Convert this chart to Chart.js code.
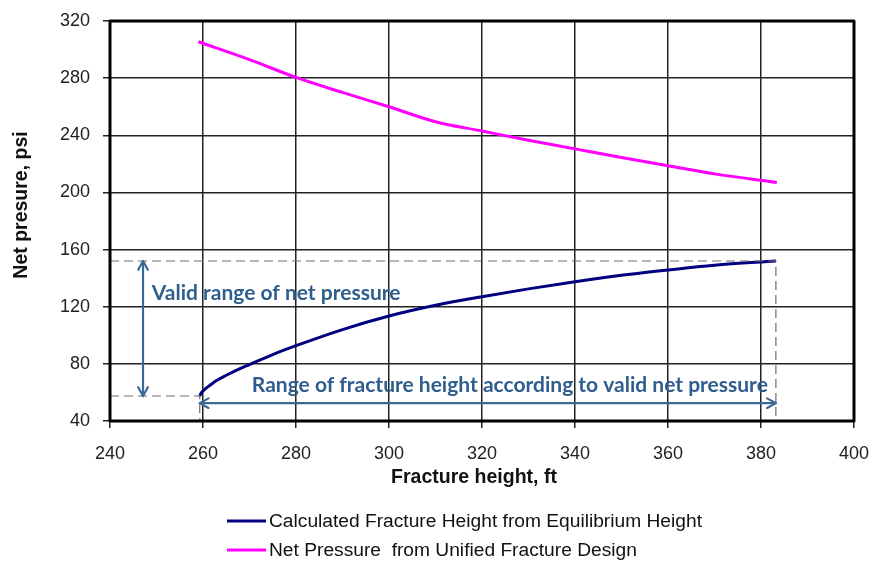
<!DOCTYPE html>
<html>
<head>
<meta charset="utf-8">
<script src="https://cdn.jsdelivr.net/npm/chart.js@4.4.1/dist/chart.umd.min.js"></script>
<style>
  html, body { margin: 0; padding: 0; background: #fff; }
  #wrap { width: 873px; height: 563px; }
</style>
</head>
<body>
<div id="wrap"><canvas id="c" width="873" height="563"></canvas></div>
<script>
// Fracture height (ft) vs. net pressure (psi) from the equilibrium-height model
const heightEq = [259.3, 259.6, 260.3, 261.5, 263, 265, 267.5, 270, 275, 280, 290, 300, 310, 320, 330, 340, 350, 360, 370, 383.2];
const pressureEq = [57.5, 59.5, 62, 65, 68.5, 72, 76, 79.5, 86.5, 92.7, 104, 113.5, 121, 127, 132.5, 137.5, 142, 145.7, 149, 152];

// Net pressure (psi) from the unified fracture design
const heightUfd = [259, 270, 280, 290, 300, 310, 320, 330, 340, 350, 360, 370, 383.4];
const pressureUfd = [305.5, 293, 280.5, 270, 260, 249.5, 243, 236.5, 230.5, 224.5, 218.7, 213, 207];

// Valid window: net pressure limits and matching fracture heights
const pressureLimits = [57.5, 152];
const heightLimits = [259.3, 383.2];

// Axis ticks
const xTicks = [240, 260, 280, 300, 320, 340, 360, 380, 400];
const yTicks = [40, 80, 120, 160, 200, 240, 280, 320];

const seriesLabels = ['Calculated Fracture Height from Equilibrium Height', 'Net Pressure  from Unified Fracture Design'];
const noteLabels = ['Valid range of net pressure', 'Range of fracture height according to valid net pressure'];
const axisTitles = ['Fracture height, ft', 'Net presure, psi'];

const xMin = xTicks[0], xMax = xTicks[xTicks.length - 1];
const yMin = yTicks[0], yMax = yTicks[yTicks.length - 1];

const toPts = (xs, ys) => xs.map((x, i) => ({ x: x, y: ys[i] }));

const ARIAL = '"Liberation Sans", Arial, sans-serif';

const guideStyle = {
  borderColor: '#6e6e6e', borderWidth: 1.2, borderDash: [9, 5],
  pointRadius: 0, fill: false, tension: 0, isGuide: true
};

const datasets = [
  // dashed guides: high limit
  Object.assign({ data: [{ x: xMin, y: pressureLimits[1] }, { x: heightLimits[1], y: pressureLimits[1] }, { x: heightLimits[1], y: yMin }] }, guideStyle),
  // dashed guides: low limit
  Object.assign({ data: [{ x: xMin, y: pressureLimits[0] }, { x: heightLimits[0], y: pressureLimits[0] }, { x: heightLimits[0], y: yMin }] }, guideStyle),
  {
    label: seriesLabels[0],
    data: toPts(heightEq, pressureEq),
    borderColor: '#000080', borderWidth: 3, pointRadius: 0,
    cubicInterpolationMode: 'monotone', fill: false
  },
  {
    label: seriesLabels[1],
    data: toPts(heightUfd, pressureUfd),
    borderColor: '#ff00ff', borderWidth: 3, pointRadius: 0,
    cubicInterpolationMode: 'monotone', fill: false
  }
];

function arrowHead(ctx, x, y, ang, size) {
  ctx.beginPath();
  ctx.moveTo(x - size * Math.cos(ang - 0.5), y - size * Math.sin(ang - 0.5));
  ctx.lineTo(x, y);
  ctx.lineTo(x - size * Math.cos(ang + 0.5), y - size * Math.sin(ang + 0.5));
  ctx.stroke();
}

function doubleArrow(ctx, x1, y1, x2, y2) {
  const ang = Math.atan2(y2 - y1, x2 - x1);
  ctx.beginPath();
  ctx.moveTo(x1, y1);
  ctx.lineTo(x2, y2);
  ctx.stroke();
  arrowHead(ctx, x2, y2, ang, 10);
  arrowHead(ctx, x1, y1, ang + Math.PI, 10);
}

const overlay = {
  id: 'overlay',
  afterDatasetsDraw(chart) {
    const { ctx, chartArea: a, scales: { x, y } } = chart;
    ctx.save();
    // range arrows
    ctx.strokeStyle = '#3b6897';
    ctx.lineWidth = 2.2;
    ctx.lineCap = 'round';
    ctx.lineJoin = 'round';
    const ax = x.getPixelForValue(247.1);
    doubleArrow(ctx, ax, y.getPixelForValue(pressureLimits[1]), ax, y.getPixelForValue(pressureLimits[0]));
    const ay = y.getPixelForValue(52.5);
    doubleArrow(ctx, x.getPixelForValue(heightLimits[0]), ay, x.getPixelForValue(heightLimits[1]), ay);

    // notes
    ctx.fillStyle = '#2f5e8e';
    ctx.font = 'bold 21px Lato, "Open Sans", sans-serif';
    ctx.textBaseline = 'middle';
    ctx.textAlign = 'left';
    ctx.fillText(noteLabels[0], x.getPixelForValue(249), y.getPixelForValue(129.6));
    ctx.fillText(noteLabels[1], x.getPixelForValue(270.5), y.getPixelForValue(64.7));

    // plot frame
    ctx.strokeStyle = '#000';
    ctx.lineWidth = 3;
    ctx.lineCap = 'butt';
    ctx.strokeRect(a.left, a.top, a.right - a.left, a.bottom - a.top);
    ctx.restore();
  },
  afterDraw(chart) {
    const { ctx } = chart;
    ctx.save();
    // axis titles
    ctx.fillStyle = '#111';
    ctx.font = 'bold 19.5px ' + ARIAL;
    ctx.textAlign = 'center';
    ctx.textBaseline = 'middle';
    ctx.fillText(axisTitles[0], 474, 478);
    ctx.save();
    ctx.translate(22, 205);
    ctx.rotate(-Math.PI / 2);
    ctx.fillText(axisTitles[1], 0, 0);
    ctx.restore();

    // legend
    ctx.font = '19.2px ' + ARIAL;
    ctx.textAlign = 'left';
    const rows = [521, 550];
    chart.data.datasets.filter(d => !d.isGuide).forEach((d, i) => {
      ctx.strokeStyle = d.borderColor;
      ctx.lineWidth = 3;
      ctx.beginPath();
      ctx.moveTo(227, rows[i]);
      ctx.lineTo(266, rows[i]);
      ctx.stroke();
      ctx.fillStyle = '#111';
      ctx.fillText(d.label, 269, rows[i] + 1);
    });
    ctx.restore();
  }
};

new Chart(document.getElementById('c'), {
  type: 'line',
  data: { datasets: datasets },
  plugins: [overlay],
  options: {
    responsive: false,
    animation: false,
    layout: { padding: { left: 0, top: 21, right: 19, bottom: 71 } },
    plugins: { legend: { display: false }, tooltip: { enabled: false } },
    scales: {
      x: {
        type: 'linear', min: xMin, max: xMax,
        afterBuildTicks: s => { s.ticks = xTicks.map(v => ({ value: v })); },
        afterFit: s => { s.height = 71; s.paddingLeft = 0; s.paddingRight = 0; },
        grid: { color: '#222', lineWidth: 1.5, tickLength: 7, tickColor: '#222' },
        border: { display: false },
        ticks: { color: '#222', font: { family: ARIAL, size: 18 }, padding: 15, maxRotation: 0 },
        title: { display: false }
      },
      y: {
        type: 'linear', min: yMin, max: yMax,
        afterBuildTicks: s => { s.ticks = yTicks.map(v => ({ value: v })); },
        afterFit: s => { s.width = 110; s.paddingTop = 0; s.paddingBottom = 0; },
        grid: { color: '#222', lineWidth: 1.5, tickLength: 7, tickColor: '#222' },
        border: { display: false },
        ticks: { color: '#222', font: { family: ARIAL, size: 18 }, padding: 13 },
        title: { display: false }
      }
    }
  }
});
</script>
</body>
</html>
